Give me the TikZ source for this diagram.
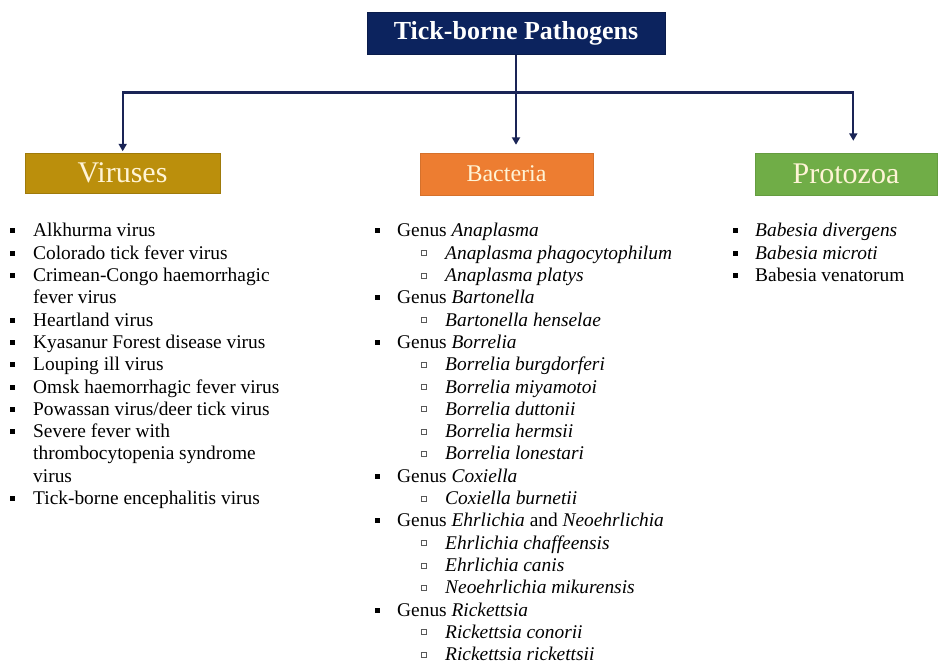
\documentclass[tikz,border=0pt]{standalone}
\usepackage{fontspec}
\setmainfont{Liberation Serif}
\usetikzlibrary{arrows.meta}

\definecolor{rootfill}{RGB}{12,35,94}
\definecolor{linkblue}{RGB}{26,36,86}
\definecolor{virfill}{RGB}{187,143,12}
\definecolor{bacfill}{RGB}{237,125,49}
\definecolor{profill}{RGB}{112,173,71}
\definecolor{cream}{RGB}{255,244,214}

\begin{document}
\begin{tikzpicture}[x=1pt,y=-1pt,
  hdr/.style={rectangle, inner sep=0pt, text=cream},
  conn/.style={draw=linkblue, line width=2.2pt, -{Triangle[width=8pt,length=7.5pt]}},
  bul/.style={rectangle, fill=black, minimum size=5pt, inner sep=0pt},
  subbul/.style={rectangle, draw=black!65, fill=white, line width=0.9pt, minimum size=5pt, inner sep=0pt},
  item/.style={anchor=base west, inner sep=0pt, font=\fontsize{19.4}{22}\selectfont}]

\useasboundingbox (0,0) rectangle (938,668);

% root and the three groups
\node[rectangle, inner sep=0pt, fill=rootfill, draw=rootfill!80!black,
      minimum width=298pt, minimum height=42pt, text=white,
      font=\fontsize{26}{30}\selectfont\bfseries] (root) at (516,33.5) {Tick-borne Pathogens};
\node[hdr, fill=virfill, draw=virfill!85!black, minimum width=195pt, minimum height=40pt,
      font=\fontsize{30}{34}\selectfont] (vir) at (122.5,173) {Viruses};
\node[hdr, fill=bacfill, draw=bacfill!90!black, minimum width=173pt, minimum height=42pt,
      font=\fontsize{24}{28}\selectfont] (bac) at (506.5,174) {Bacteria};
\node[hdr, fill=profill, draw=profill!90!black, minimum width=182pt, minimum height=42pt,
      font=\fontsize{30}{34}\selectfont] (pro) at (846,174) {Protozoa};

% connectors
\coordinate (split) at (516,92.5);
\draw[conn, shorten >=8pt] (root.south) -- (root.south |- bac.north);
\draw[conn, shorten >=1.5pt] (split) -| ([xshift=0.2pt]vir.north);
\draw[conn, shorten >=12pt] (split) -| ([xshift=7.3pt]pro.north);

% virus list
\foreach \b/\txt [count=\i from 0] in {
  1/Alkhurma virus,
  1/Colorado tick fever virus,
  1/Crimean-Congo haemorrhagic,
  0/fever virus,
  1/Heartland virus,
  1/Kyasanur Forest disease virus,
  1/Louping ill virus,
  1/Omsk haemorrhagic fever virus,
  1/{Powassan virus/deer tick virus},
  1/Severe fever with,
  0/thrombocytopenia syndrome,
  0/virus,
  1/Tick-borne encephalitis virus}{
  \pgfmathsetmacro{\yb}{237+22.3*\i}
  \node[item] (v\i) at (33,\yb) {\txt};
  \ifnum\b=1 \node[bul] (vb\i) at (12.5,\yb-6) {}; \fi
}

% bacteria list
\foreach \lv/\txt [count=\i from 0] in {
  1/Genus \textit{Anaplasma},
  2/\textit{Anaplasma phagocytophilum},
  2/\textit{Anaplasma platys},
  1/Genus \textit{Bartonella},
  2/\textit{Bartonella henselae},
  1/Genus \textit{Borrelia},
  2/\textit{Borrelia burgdorferi},
  2/\textit{Borrelia miyamotoi},
  2/\textit{Borrelia duttonii},
  2/\textit{Borrelia hermsii},
  2/\textit{Borrelia lonestari},
  1/Genus \textit{Coxiella},
  2/\textit{Coxiella burnetii},
  1/Genus \textit{Ehrlichia} and \textit{Neoehrlichia},
  2/\textit{Ehrlichia chaffeensis},
  2/\textit{Ehrlichia canis},
  2/\textit{Neoehrlichia mikurensis},
  1/Genus \textit{Rickettsia},
  2/\textit{Rickettsia conorii},
  2/\textit{Rickettsia rickettsii}}{
  \pgfmathsetmacro{\yb}{237+22.3*\i}
  \ifnum\lv=1
    \node[bul] (bb\i) at (377,\yb-6) {};
    \node[item] (b\i) at (397,\yb) {\txt};
  \else
    \node[subbul] (bb\i) at (424,\yb-6) {};
    \node[item] (b\i) at (445,\yb) {\txt};
  \fi
}

% protozoa list
\foreach \txt [count=\i from 0] in {
  \textit{Babesia divergens},
  \textit{Babesia microti},
  Babesia venatorum}{
  \pgfmathsetmacro{\yb}{237+22.3*\i}
  \node[bul] (pb\i) at (735,\yb-6) {};
  \node[item] (p\i) at (755,\yb) {\txt};
}
\end{tikzpicture}
\end{document}
